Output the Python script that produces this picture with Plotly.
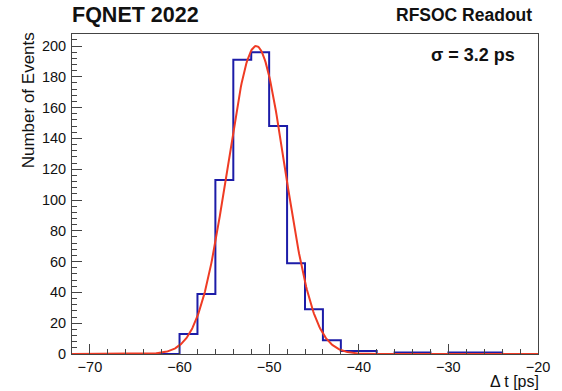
import numpy as np
import plotly.graph_objects as go

# Histogram bins (2 ps wide) and counts
bin_edges = [-72, -70, -68, -66, -64, -62, -60, -58, -56, -54, -52, -50, -48, -46,
             -44, -42, -40, -38, -36, -34, -32, -30, -28, -26, -24, -22, -20]
counts = [0, 0, 0, 0, 0, 0, 13, 39, 113, 191, 196, 148, 59, 29,
          9, 2, 2, 0, 1, 1, 0, 1, 1, 1, 0, 0]

# Gaussian fit parameters
fit_amp = 200.0
fit_mean = -51.45
fit_sigma = 3.2

x_ticks = [-70, -60, -50, -40, -30, -20]
x_tick_labels = ["\u221270", "\u221260", "\u221250", "\u221240", "\u221230", "\u221220"]
y_ticks = [0, 20, 40, 60, 80, 100, 120, 140, 160, 180, 200]

FONT = "Liberation Sans, Arial, Helvetica, sans-serif"

fx = np.linspace(bin_edges[0], bin_edges[-1], 600)
fy = fit_amp * np.exp(-0.5 * ((fx - fit_mean) / fit_sigma) ** 2)

fig = go.Figure()
fig.add_trace(go.Scatter(
    x=bin_edges, y=counts + [counts[-1]], mode="lines", line_shape="hv",
    line=dict(color="#1c1ca8", width=2), hoverinfo="skip", showlegend=False))
fig.add_trace(go.Scatter(
    x=fx, y=fy, mode="lines", line=dict(color="#ef3b24", width=2),
    hoverinfo="skip", showlegend=False))

axis_common = dict(
    showgrid=False, zeroline=False, showline=True, linecolor="#444444", linewidth=1,
    mirror=True, ticks="inside", tickcolor="#444444", tickwidth=1,
    tickfont=dict(family=FONT, size=14.5, color="#111111"),
)
fig.update_xaxes(range=[-72, -20], tickvals=x_ticks, ticktext=x_tick_labels,
                 ticklen=10,
                 minor=dict(ticks="inside", dtick=2, ticklen=5, tickcolor="#444444"),
                 **axis_common)
fig.update_yaxes(range=[0, 207.8], tickvals=y_ticks, ticklen=10,
                 ticklabelstandoff=2,
                 minor=dict(ticks="inside", dtick=4, ticklen=5, tickcolor="#444444"),
                 **axis_common)

PLOT_H = 391 - 34 - 37

fig.update_layout(
    width=562, height=391,
    margin=dict(l=72, r=20, t=34, b=37),
    paper_bgcolor="white", plot_bgcolor="white",
    font=dict(family=FONT, color="#111111"),
    annotations=[
        dict(text="<b>FQNET 2022</b>", xref="paper", yref="paper", x=0.0, y=1.0,
             xanchor="left", yanchor="bottom", yshift=5, xshift=-2, showarrow=False,
             font=dict(family=FONT, size=21.5, color="#111111")),
        dict(text="<b>RFSOC Readout</b>", xref="paper", yref="paper", x=1.0, y=1.0,
             xanchor="right", yanchor="bottom", yshift=7, xshift=-4, showarrow=False,
             font=dict(family=FONT, size=17.5, color="#111111")),
        dict(text="<b>\u03c3 = 3.2 ps</b>", xref="paper", yref="paper", x=0.955, y=0.935,
             xanchor="right", yanchor="middle", showarrow=False,
             font=dict(family=FONT, size=18, color="#111111")),
        dict(text="Number of Events", xref="paper", yref="paper", x=0, y=1.01,
             xanchor="right", yanchor="top", xshift=-32, textangle=-90, showarrow=False,
             font=dict(family=FONT, size=17, color="#111111")),
        dict(text="\u0394 t [ps]", xref="paper", yref="paper", x=1.0, y=-37 / PLOT_H,
             xanchor="right", yanchor="bottom", xshift=2, borderpad=0, showarrow=False,
             font=dict(family=FONT, size=16, color="#111111")),
    ],
)

fig.write_html("out.html", config={"displayModeBar": False},
               post_script="document.body.style.margin='0px';document.body.style.overflow='hidden';")
